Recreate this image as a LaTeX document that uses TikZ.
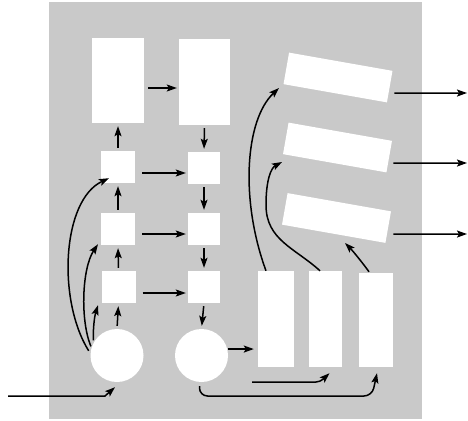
\documentclass[tikz,border=0pt]{standalone}
\usetikzlibrary{arrows.meta}
\definecolor{panelgray}{gray}{0.79}
\tikzset{
  panel/.style={fill=panelgray,draw=none},
  block/.style={fill=white,draw=none,inner sep=0pt,rectangle},
  disc/.style={fill=white,draw=none,inner sep=0pt,circle,minimum size=53pt},
  slab/.style={block,minimum width=105pt,minimum height=32pt,rotate=-10},
  arr/.style={line width=1.5pt,-{Stealth[length=10pt,width=7pt,inset=2pt]}},
  gap/.style={shorten <=3pt,shorten >=3pt}
}
\begin{document}
\begin{tikzpicture}[x=1pt,y=-1pt]
\useasboundingbox (0,0) rectangle (468,420);
\fill[panel] (49,2) rectangle (422,419);

% left column: large block, three small blocks, source disc
\node[block,minimum width=52pt,minimum height=85pt] (bigL) at (118,80.5) {};
\node[block,minimum width=34pt,minimum height=32pt] (sL1) at (118,167) {};
\node[block,minimum width=34pt,minimum height=32pt] (sL2) at (118,229) {};
\node[block,minimum width=34pt,minimum height=32pt] (sL3) at (118.5,287) {};
\node[disc] (cL) at (117,355.5) {};

% middle column
\node[block,minimum width=51pt,minimum height=86pt] (bigR) at (204.5,82) {};
\node[block,minimum width=32pt,minimum height=32pt] (sR1) at (204,168) {};
\node[block,minimum width=32pt,minimum height=32pt] (sR2) at (204,229) {};
\node[block,minimum width=32pt,minimum height=32pt] (sR3) at (204,287) {};
\node[disc] (cR) at (201.5,355.5) {};

% tall blocks at the bottom right
\node[block,minimum width=36pt,minimum height=96pt] (tA) at (276,319) {};
\node[block,minimum width=33pt,minimum height=96pt] (tB) at (325.5,319) {};
\node[block,minimum width=34pt,minimum height=94pt] (tC) at (376,320) {};

% tilted output slabs
\node[slab] (d1) at (338,77.5) {};
\node[slab] (d2) at (337.5,147.5) {};
\node[slab] (d3) at (336.5,218) {};

% free ends
\coordinate (inp) at (8,396);
\coordinate (o1) at (467,93);
\coordinate (o2) at (467,163);
\coordinate (o3) at (467,234);
\coordinate (fb) at (252,382);

% upward chain on the left
\draw[arr,gap] (cL.north) -- (sL3.south);
\draw[arr,gap] (sL3.north) -- (sL2.south);
\draw[arr,gap] (sL2.north) -- (sL1.south);
\draw[arr,gap] (sL1.north) -- (bigL.south);

% downward chain in the middle
\draw[arr,gap] (bigR.south) -- (sR1.north);
\draw[arr,gap] (sR1.south) -- (sR2.north);
\draw[arr,gap] (sR2.south) -- (sR3.north);
\draw[arr,gap] (sR3.south) -- (cR.north);

% horizontal links
\draw[arr] ([shift={(4,7.5)}]bigL.east) -- ([shift={(-2,6)}]bigR.west);
\draw[arr] ([shift={(7,6)}]sL1.east) -- ([shift={(-2,5)}]sR1.west);
\draw[arr] ([shift={(7,5)}]sL2.east) -- ([shift={(-2,5)}]sR2.west);
\draw[arr] ([shift={(7,6)}]sL3.east) -- ([shift={(-2,6)}]sR3.west);
\draw[arr,shorten <=1pt,shorten >=4pt] (cR.14) -- (cR.14 -| tA.west);

% bypass arcs from the source disc
\draw[arr] ([shift={(-2,0)}]cL.170) .. controls (57,300) and (62,200) .. ([shift={(-9,-5)}]sL1.south);
\draw[arr] ([shift={(-1,0)}]cL.160) .. controls (80,320) and (82,268) .. ([shift={(-20,-1)}]sL2.south);
\draw[arr] ([shift={(-1,-1)}]cL.148) .. controls (93,332) and (94,318) .. ([shift={(-20.5,2)}]sL3.south);

% input line
\draw[arr] (inp) -- (105,396) -- ([shift={(-2,5)}]cL.south);

% feedback lines along the bottom
\draw[arr,rounded corners=4pt] (fb) -- (320,382) -- ([shift={(4,6)}]tB.south);
\draw[arr,rounded corners=8pt] ([shift={(-2,4)}]cR.south) |- (372,396) -- ([shift={(1,6)}]tC.south);

% risers from the tall blocks to the slabs
\draw[arr] ([xshift=-10]tA.north) .. controls (240,200) and (245,120) .. (279,88);
\draw[arr] ([xshift=-5.5]tB.north) .. controls (295,248) and (266,240) .. (266,205)
           .. controls (266,180) and (271,168) .. (282,162);
\draw[arr] ([shift={(-7,-1)}]tC.north) .. controls (362,262) and (352,250) .. (345,243);

% outputs
\draw[arr] ([shift={(4.5,6.5)}]d1.east) -- (o1);
\draw[arr] ([shift={(4,6.5)}]d2.east) -- (o2);
\draw[arr] ([shift={(5,7)}]d3.east) -- (o3);
\end{tikzpicture}
\end{document}
